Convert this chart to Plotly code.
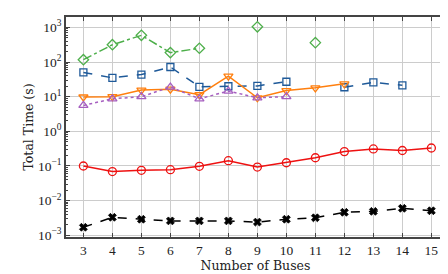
import plotly.graph_objects as go

buses = [3, 4, 5, 6, 7, 8, 9, 10, 11, 12, 13, 14, 15]

green = [117, 316, 590, 187, 250, None, 1040, None, 363, None, None, None, None]
blue = [50, 35, 43.5, 72, 19.3, 20, 20.5, 27, None, 18.7, 26, 21.3, None]
orange = [9.8, 10, 15.5, 16.5, 11.4, 39, 9.3, 15, 18, 23.5, None, None, None]
purple = [5.6, 8.7, 10, 19, 8.7, 14.5, 9.3, 10, None, None, None, None, None]
red = [0.1, 0.069, 0.075, 0.078, 0.098, 0.142, 0.093, 0.124, 0.173, 0.26, 0.31, 0.28, 0.33]
black = [0.0017, 0.0033, 0.0029, 0.0026, 0.0026, 0.0026, 0.0024, 0.0029, 0.0032, 0.0046, 0.0049, 0.006, 0.0051]

ytick_vals = [1e-3, 1e-2, 1e-1, 1, 10, 100, 1000]
ytick_text = ["10<sup>−3</sup>", "10<sup>−2</sup>", "10<sup>−1</sup>", "10<sup>0</sup>",
              "10<sup>1</sup>", "10<sup>2</sup>", "10<sup>3</sup>"]

series = [
    (green, "#4daf4a", "dashdot", "diamond-open", 8, 1.3),
    (blue, "#1f5a99", "dash", "square-open", 7, 1.3),
    (orange, "#ff7f0e", "solid", "triangle-down-open", 8, 1.3),
    (purple, "#a65fc0", "dot", "triangle-up-open", 8, 1.3),
    (red, "#ee1111", "solid", "circle-open", 8, 1.3),
    (black, "#000000", "dash", "x", 7, 0.8),
]

fig = go.Figure()
for ys, col, dash, sym, sz, lw in series:
    fig.add_trace(go.Scatter(
        x=buses, y=ys, mode="lines+markers",
        line=dict(color=col, width=1.5, dash=dash),
        marker=dict(symbol=sym, size=sz, color=col, line=dict(color=col, width=lw)),
        connectgaps=False, showlegend=False))

minor_vals = [m * 10 ** k for k in range(-4, 4) for m in range(2, 10)]
title_font = dict(family="DejaVu Serif", size=12.5, color="#222")

fig.update_layout(
    width=448, height=274,
    margin=dict(l=58, r=11, t=7, b=45),
    plot_bgcolor="white", paper_bgcolor="white",
    font=dict(family="Liberation Serif", size=13.5, color="#222"),
)
fig.update_xaxes(
    title=dict(text="Number of Buses", standoff=1, font=title_font),
    range=[2.4, 15.47], tickmode="array", tickvals=buses,
    ticks="inside", ticklen=4, tickcolor="#444",
    showgrid=True, gridcolor="#cccccc", gridwidth=1,
    showline=True, linecolor="#444", linewidth=1.5, mirror="ticks",
    zeroline=False,
)
fig.update_yaxes(
    type="log", title=dict(text="Total Time (s)", standoff=2, font=title_font),
    range=[-3.05, 3.3], tickmode="array", tickvals=ytick_vals, ticktext=ytick_text,
    ticks="inside", ticklen=4, tickcolor="#444",
    minor=dict(tickmode="array", tickvals=minor_vals, ticks="inside", ticklen=2,
               tickcolor="#444", showgrid=False),
    showgrid=True, gridcolor="#cccccc", gridwidth=1,
    showline=True, linecolor="#444", linewidth=1.5, mirror="ticks",
    zeroline=False,
)

fig.write_html("out.html")
